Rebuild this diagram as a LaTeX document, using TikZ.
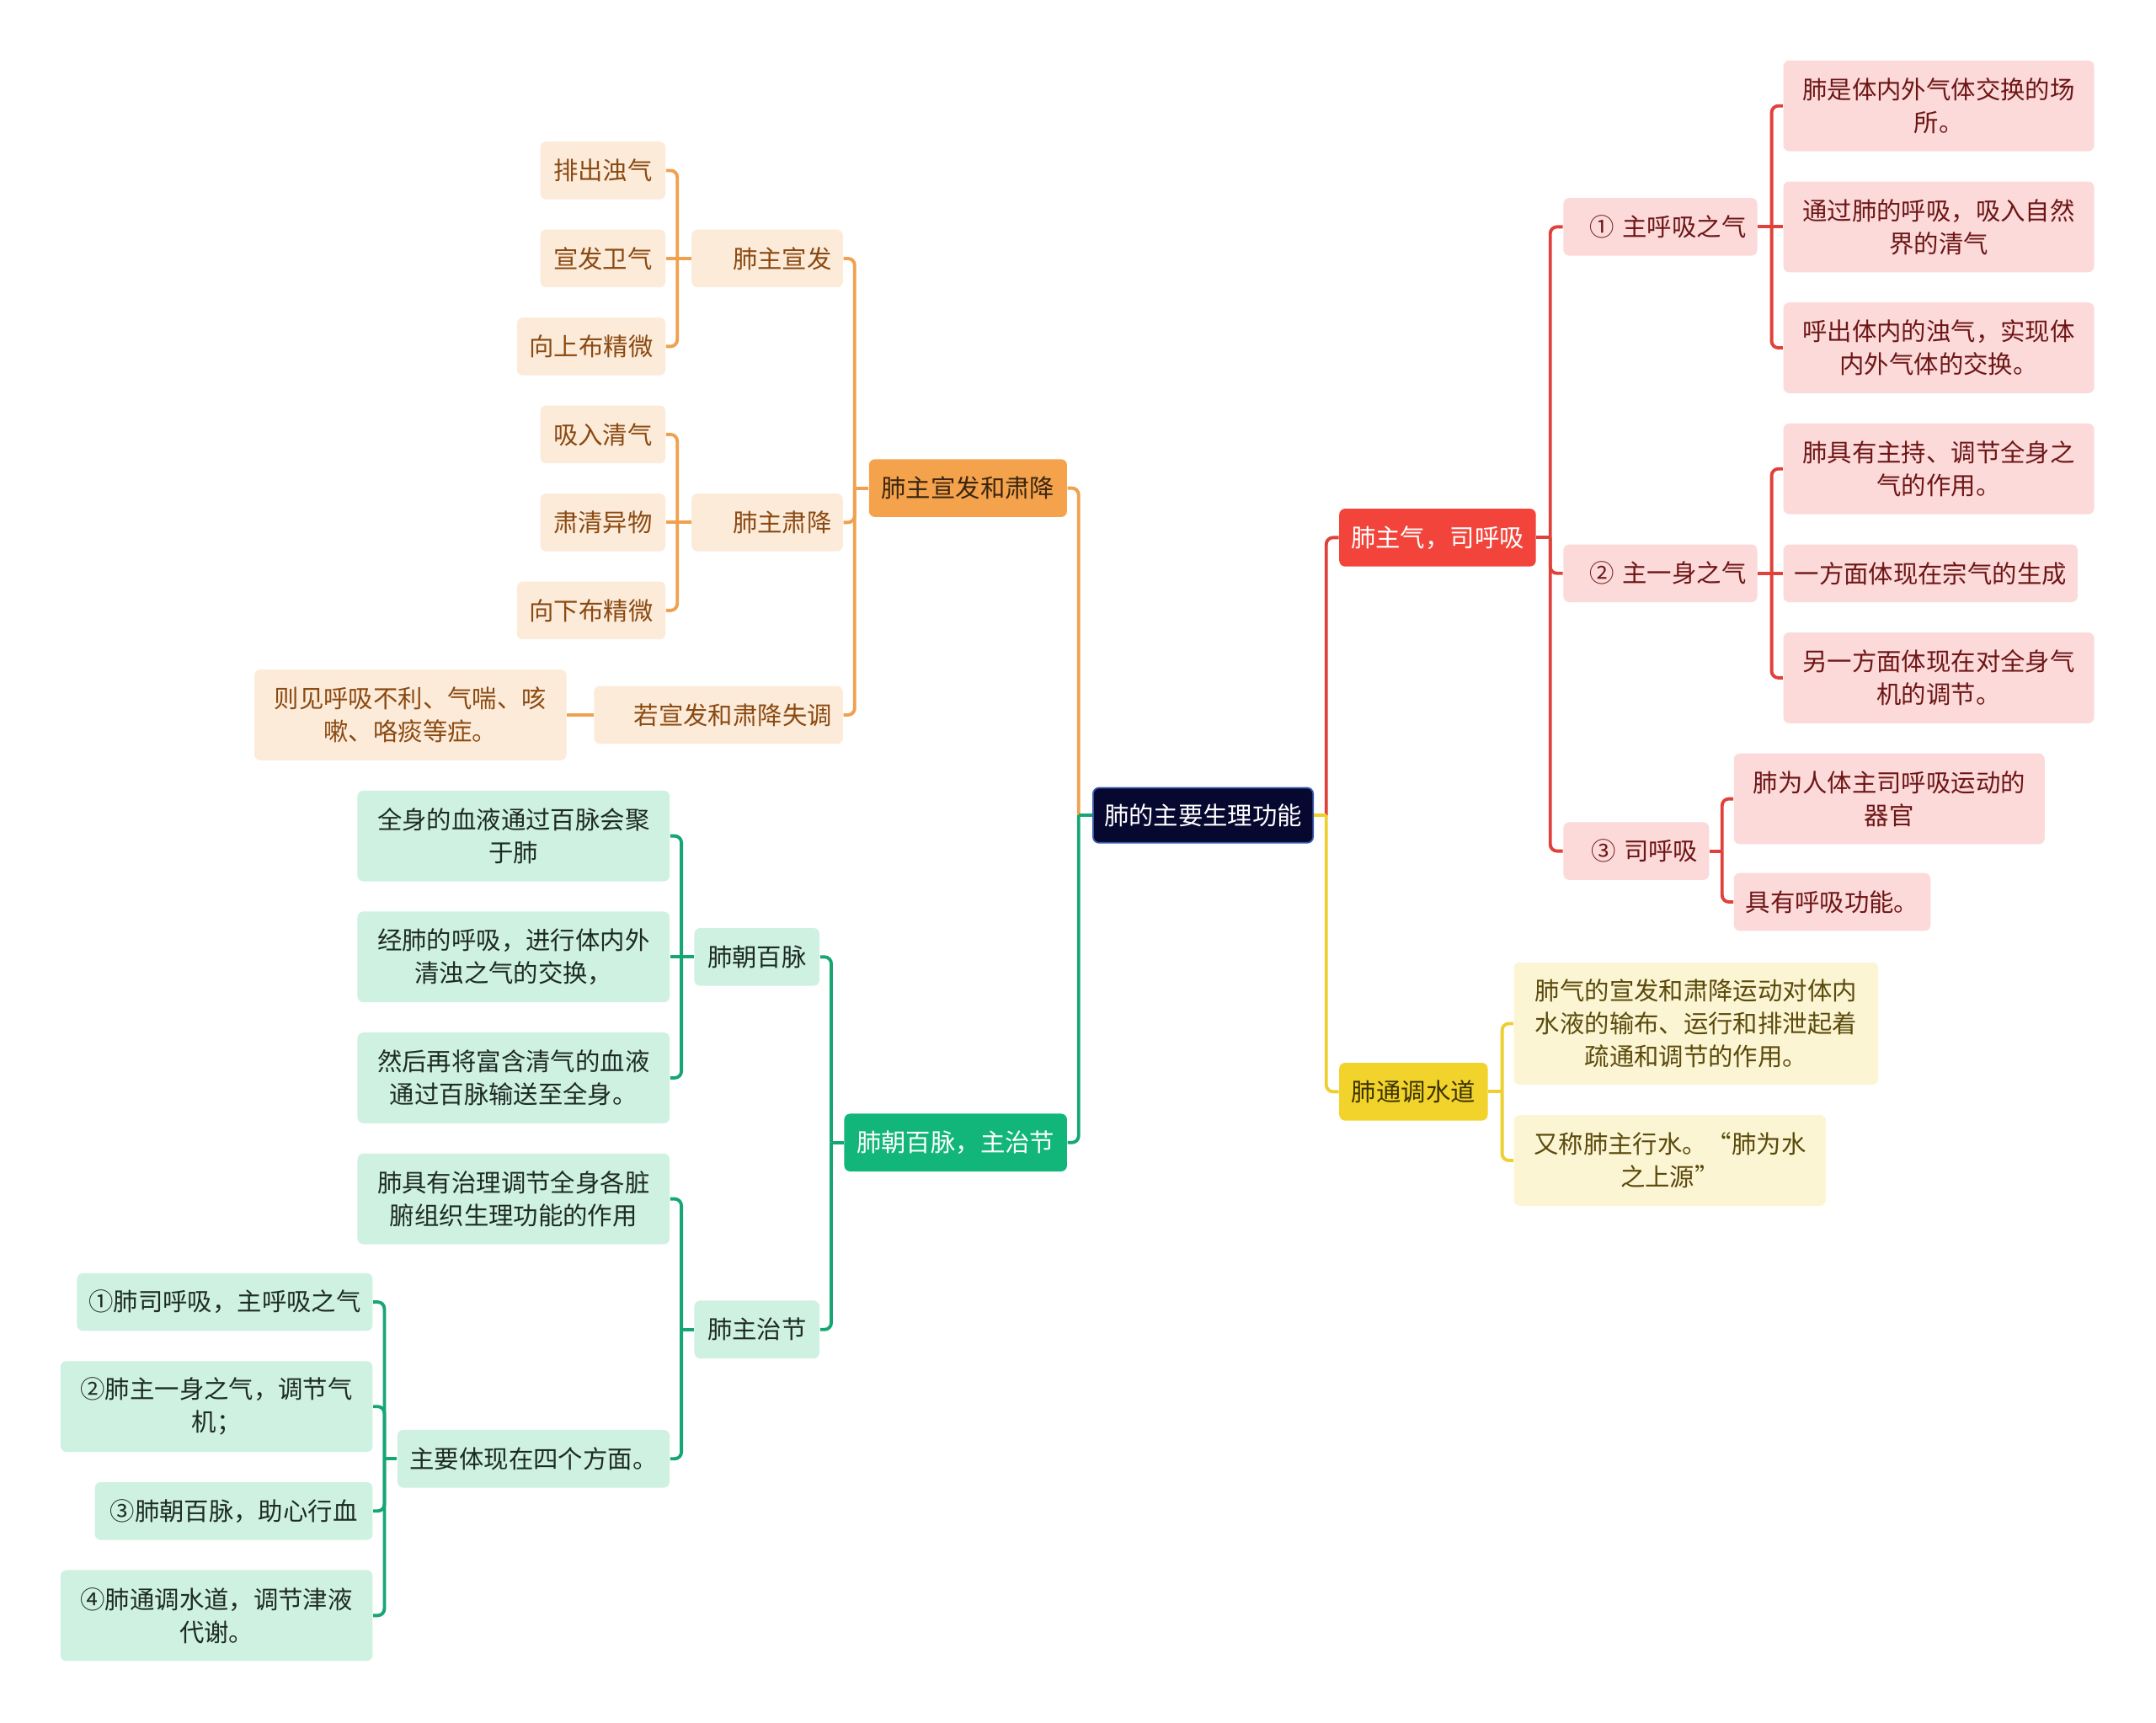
\documentclass[tikz,border=0pt]{standalone}
\usepackage{fontspec}
\setmainfont{Noto Sans CJK SC}
\usetikzlibrary{calc}
\definecolor{omain}{HTML}{F5A24C}
\definecolor{olight}{HTML}{FDEBDA}
\definecolor{otext}{HTML}{8A4A12}
\definecolor{otextm}{HTML}{3A2610}
\definecolor{oline}{HTML}{F0A04E}
\definecolor{rmain}{HTML}{F2443B}
\definecolor{rlight}{HTML}{FCDADA}
\definecolor{rtext}{HTML}{6E1616}
\definecolor{rline}{HTML}{E0413B}
\definecolor{ymain}{HTML}{F2D32B}
\definecolor{ylight}{HTML}{FCF5D3}
\definecolor{ytext}{HTML}{5A4A0C}
\definecolor{ytextm}{HTML}{3D3300}
\definecolor{yline}{HTML}{EDCF30}
\definecolor{gmain}{HTML}{12B67A}
\definecolor{glight}{HTML}{CEF1E2}
\definecolor{gtext}{HTML}{1E2B25}
\definecolor{gline}{HTML}{17A673}
\definecolor{rootc}{HTML}{060830}
\definecolor{rootb}{HTML}{3A5BA8}
\tikzset{
  mmfont/.style={font=\fontsize{8.36}{11.1}\selectfont},
  box/.style={mmfont, rounded corners=0.07cm, inner xsep=0pt, inner ysep=0pt, align=center},
  sz/.style 2 args={minimum width=#1*0.016327cm, minimum height=#2*0.016327cm},
  rbox/.style 2 args={mmfont, rounded corners=0.07cm, inner xsep=0.1306cm, inner ysep=0pt, text width=#1, align=right, minimum height=#2*0.016327cm},
  omn/.style={fill=omain, text=otextm},
  osb/.style={fill=olight, text=otext},
  rmn/.style={fill=rmain, text=white},
  rsb/.style={fill=rlight, text=rtext},
  ymn/.style={fill=ymain, text=ytextm},
  ysb/.style={fill=ylight, text=ytext},
  gmn/.style={fill=gmain, text=white},
  gsb/.style={fill=glight, text=gtext},
  conn/.style={line width=1.1pt, rounded corners=0.08cm},
  oc/.style={conn, draw=oline},
  rc/.style={conn, draw=rline},
  yc/.style={conn, draw=yline},
  gc/.style={conn, draw=gline}
}
\begin{document}
\begin{tikzpicture}[x=0.016327cm, y=-0.016327cm]
\useasboundingbox (0,0) rectangle (1568,1253);
\fill[white] (0,0) rectangle (1568,1253);

% root
\node[box, sz={160}{40}, fill=rootc, draw=rootb, line width=0.5pt, text=white] (root) at (875,593) {肺的主要生理功能};

% orange branch
\node[box, sz={144}{42}, omn] (O) at (704,355) {肺主宣发和肃降};
\node[rbox={1.5347cm}{42}, osb] (O1) at (558,188) {肺主宣发};
\node[rbox={1.5347cm}{42}, osb] (O2) at (558,380) {肺主肃降};
\node[rbox={2.6940cm}{42}, osb] (O3) at (522.5,520) {若宣发和肃降失调};
\node[box, sz={91}{42}, osb] (O11) at (438.5,124) {排出浊气};
\node[box, sz={91}{42}, osb] (O12) at (438.5,188) {宣发卫气};
\node[box, sz={108}{42}, osb] (O13) at (430,252) {向上布精微};
\node[box, sz={91}{42}, osb] (O21) at (438.5,316) {吸入清气};
\node[box, sz={91}{42}, osb] (O22) at (438.5,380) {肃清异物};
\node[box, sz={108}{42}, osb] (O23) at (430,444) {向下布精微};
\node[box, sz={227}{66}, osb] (O31) at (298.5,520) {则见呼吸不利、气喘、咳\\嗽、咯痰等症。};

% green branch
\node[box, sz={162}{42}, gmn] (G) at (695,831) {肺朝百脉，主治节};
\node[box, sz={91}{42}, gsb] (G1) at (550.5,696) {肺朝百脉};
\node[box, sz={91}{42}, gsb] (G2) at (550.5,967) {肺主治节};
\node[box, sz={227}{66}, gsb] (G11) at (373.5,608) {全身的血液通过百脉会聚\\于肺};
\node[box, sz={227}{66}, gsb] (G12) at (373.5,696) {经肺的呼吸，进行体内外\\清浊之气的交换，};
\node[box, sz={227}{66}, gsb] (G13) at (373.5,784) {然后再将富含清气的血液\\通过百脉输送至全身。};
\node[box, sz={227}{66}, gsb] (G21) at (373.5,872) {肺具有治理调节全身各脏\\腑组织生理功能的作用};
\node[box, sz={198}{42}, gsb] (G22) at (388,1061) {主要体现在四个方面。};
\node[box, sz={215}{42}, gsb] (G221) at (163.5,947) {①肺司呼吸，主呼吸之气};
\node[box, sz={227}{66}, gsb] (G222) at (157.5,1023) {②肺主一身之气，调节气\\机；};
\node[box, sz={202}{42}, gsb] (G223) at (170,1099) {③肺朝百脉，助心行血};
\node[box, sz={227}{66}, gsb] (G224) at (157.5,1175) {④肺通调水道，调节津液\\代谢。};

% red branch
\node[box, sz={143}{42}, rmn] (R) at (1045.5,391) {肺主气，司呼吸};
\node[rbox={2.0409cm}{42}, rsb] (R1) at (1207.5,165) {① 主呼吸之气};
\node[rbox={2.0409cm}{42}, rsb] (R2) at (1207.5,417) {② 主一身之气};
\node[rbox={1.4694cm}{42}, rsb] (R3) at (1190,619) {③ 司呼吸};
\node[box, sz={226}{66}, rsb] (R11) at (1410,77) {肺是体内外气体交换的场\\所。};
\node[box, sz={226}{66}, rsb] (R12) at (1410,165) {通过肺的呼吸，吸入自然\\界的清气};
\node[box, sz={226}{66}, rsb] (R13) at (1410,253) {呼出体内的浊气，实现体\\内外气体的交换。};
\node[box, sz={226}{66}, rsb] (R21) at (1410,341) {肺具有主持、调节全身之\\气的作用。};
\node[box, sz={214}{42}, rsb] (R22) at (1404,417) {一方面体现在宗气的生成};
\node[box, sz={226}{66}, rsb] (R23) at (1410,493) {另一方面体现在对全身气\\机的调节。};
\node[box, sz={226}{66}, rsb] (R31) at (1374,581) {肺为人体主司呼吸运动的\\器官};
\node[box, sz={143}{42}, rsb] (R32) at (1332.5,656) {具有呼吸功能。};

% yellow branch
\node[box, sz={108}{42}, ymn] (Y) at (1028,794) {肺通调水道};
\node[box, sz={265}{89}, ysb] (Y1) at (1233.5,744.5) {肺气的宣发和肃降运动对体内\\水液的输布、运行和排泄起着\\疏通和调节的作用。};
\node[box, sz={227}{66}, ysb] (Y2) at (1214.5,844) {又称肺主行水。“肺为水\\之上源”};

% ---------- connectors ----------
\coordinate (rootL) at ($(root.west)+(-10,0)$);
\draw[oc] (rootL) |- (O.east);
\draw[gc] (rootL) |- (G.east);
\draw[gc] (root.west) -- (rootL);
\coordinate (rootR) at ($(root.east)+(9,0)$);
\draw[rc] (rootR) |- (R.west);
\draw[yc] (rootR) |- (Y.west);
\draw[yc] (root.east) -- (rootR);

% orange
\coordinate (oS) at ($(O.west)+(-10,0)$);
\draw[oc] (O.west) -- (oS);
\draw[oc] (oS) |- (O1.east);
\draw[oc] (oS) |- (O2.east);
\draw[oc] (oS) |- (O3.east);
\coordinate (o1S) at ($(O1.west)+(-10,0)$);
\draw[oc] (O1.west) -- (o1S);
\draw[oc] (o1S) |- (O11.east);
\draw[oc] (o1S) -- (O12.east);
\draw[oc] (o1S) |- (O13.east);
\coordinate (o2S) at ($(O2.west)+(-10,0)$);
\draw[oc] (O2.west) -- (o2S);
\draw[oc] (o2S) |- (O21.east);
\draw[oc] (o2S) -- (O22.east);
\draw[oc] (o2S) |- (O23.east);
\draw[oc] (O3.west) -- (O31.east);

% green
\coordinate (gS) at ($(G.west)+(-9,0)$);
\draw[gc] (G.west) -- (gS);
\draw[gc] (gS) |- (G1.east);
\draw[gc] (gS) |- (G2.east);
\coordinate (g1S) at ($(G1.west)+(-9,0)$);
\draw[gc] (G1.west) -- (g1S);
\draw[gc] (g1S) |- (G11.east);
\draw[gc] (g1S) -- (G12.east);
\draw[gc] (g1S) |- (G13.east);
\coordinate (g2S) at ($(G2.west)+(-9,0)$);
\draw[gc] (G2.west) -- (g2S);
\draw[gc] (g2S) |- (G21.east);
\draw[gc] (g2S) |- (G22.east);
\coordinate (g22S) at ($(G22.west)+(-9,0)$);
\draw[gc] (G22.west) -- (g22S);
\draw[gc] (g22S) |- (G221.east);
\draw[gc] (g22S) |- (G222.east);
\draw[gc] (g22S) |- (G223.east);
\draw[gc] (g22S) |- (G224.east);

% red
\coordinate (rS) at ($(R.east)+(10,0)$);
\draw[rc] (R.east) -- (rS);
\draw[rc] (rS) |- (R1.west);
\draw[rc] (rS) |- (R2.west);
\draw[rc] (rS) |- (R3.west);
\coordinate (r1S) at ($(R1.east)+(10,0)$);
\draw[rc] (R1.east) -- (r1S);
\draw[rc] (r1S) |- (R11.west);
\draw[rc] (r1S) -- (R12.west);
\draw[rc] (r1S) |- (R13.west);
\coordinate (r2S) at ($(R2.east)+(10,0)$);
\draw[rc] (R2.east) -- (r2S);
\draw[rc] (r2S) |- (R21.west);
\draw[rc] (r2S) -- (R22.west);
\draw[rc] (r2S) |- (R23.west);
\coordinate (r3S) at ($(R3.east)+(9,0)$);
\draw[rc] (R3.east) -- (r3S);
\draw[rc] (r3S) |- (R31.west);
\draw[rc] (r3S) |- (R32.west);

% yellow
\coordinate (yS) at ($(Y.east)+(10,0)$);
\draw[yc] (Y.east) -- (yS);
\draw[yc] (yS) |- (Y1.west);
\draw[yc] (yS) |- (Y2.west);
\end{tikzpicture}
\end{document}
